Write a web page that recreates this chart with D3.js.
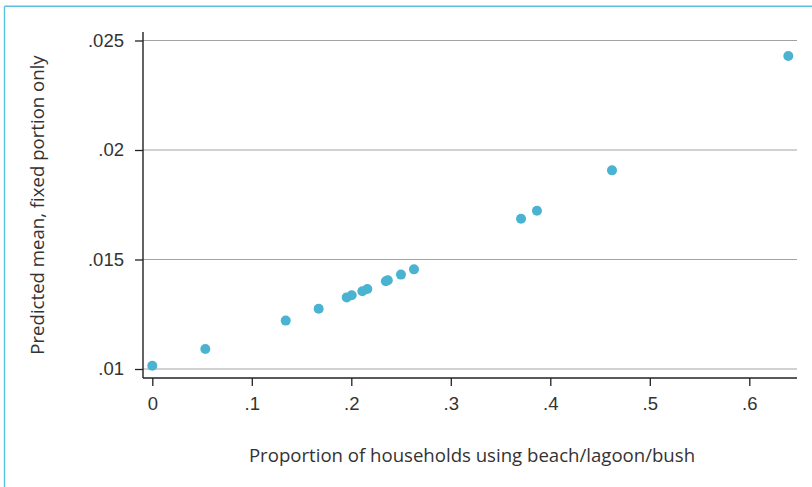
<!DOCTYPE html>
<html>
<head>
<meta charset="utf-8">
<script src="https://cdn.jsdelivr.net/npm/d3@7"></script>
<style>
  html, body { margin: 0; padding: 0; background: #fff; }
  svg { display: block; font-family: "Open Sans", "Noto Sans", sans-serif; }
</style>
</head>
<body>
<svg id="chart" width="812" height="487"></svg>
<script>
// Share of households using beach/lagoon/bush vs. predicted mean (fixed portion)
const proportion = [0, 0.0533, 0.1341, 0.1672, 0.1954, 0.2004, 0.2111, 0.2161, 0.2347, 0.2367, 0.2499, 0.2630, 0.3706, 0.3866, 0.4620, 0.6392];
const predictedMean = [0.01015, 0.01091, 0.01221, 0.01275, 0.01327, 0.01337, 0.01355, 0.01365, 0.01401, 0.01405, 0.01431, 0.01455, 0.01686, 0.01723, 0.01907, 0.02429];

const xTicks = [0, 0.1, 0.2, 0.3, 0.4, 0.5, 0.6];
const xTickLabels = ["0", ".1", ".2", ".3", ".4", ".5", ".6"];
const yTicks = [0.01, 0.015, 0.02, 0.025];
const yTickLabels = [".01", ".015", ".02", ".025"];

const xTitle = "Proportion of households using beach/lagoon/bush";
const yTitle = "Predicted mean, fixed portion only";

const svg = d3.select("#chart");
const textColor = "#333";
const dotColor = "#4bb3d2";

// Plot region
const plotLeft = 143, plotRight = 797, plotTop = 32, plotBottom = 378;

const x = d3.scaleLinear().domain([0, 0.6]).range([152.3, 749.3]);
const y = d3.scaleLinear().domain([0.01, 0.025]).range([369, 40.5]);

// Outer frame (top and left edges)
svg.append("line").attr("x1", 4.5).attr("x2", 812).attr("y1", 6.3).attr("y2", 6.3)
  .attr("stroke", "#5cbfdc").attr("stroke-width", 1.4);
svg.append("line").attr("x1", 4.5).attr("x2", 4.5).attr("y1", 6.3).attr("y2", 487)
  .attr("stroke", "#5cbfdc").attr("stroke-width", 1.4);

// Horizontal grid lines
svg.append("g").selectAll("line").data(yTicks).join("line")
  .attr("x1", plotLeft).attr("x2", plotRight)
  .attr("y1", d => y(d)).attr("y2", d => y(d))
  .attr("stroke", "#a3a3a3").attr("stroke-width", 1.2);

// Y axis
const yAxis = svg.append("g").attr("transform", `translate(${plotLeft},0)`)
  .call(d3.axisLeft(y).tickValues(yTicks).tickFormat((d, i) => yTickLabels[i]).tickSize(8).tickPadding(11).tickSizeOuter(0));
yAxis.select(".domain").remove();
yAxis.selectAll(".tick line").attr("stroke", "#222").attr("stroke-width", 1.3);
yAxis.selectAll(".tick text").attr("fill", textColor).attr("font-size", 18.5).attr("font-family", null);
yAxis.append("line").attr("x1", 0).attr("x2", 0).attr("y1", plotTop).attr("y2", plotBottom)
  .attr("stroke", "#222").attr("stroke-width", 1.4);

// X axis
const xAxis = svg.append("g").attr("transform", `translate(0,${plotBottom})`)
  .call(d3.axisBottom(x).tickValues(xTicks).tickFormat((d, i) => xTickLabels[i]).tickSize(8).tickPadding(11).tickSizeOuter(0));
xAxis.select(".domain").remove();
xAxis.selectAll(".tick line").attr("stroke", "#222").attr("stroke-width", 1.3);
xAxis.selectAll(".tick text").attr("fill", textColor).attr("font-size", 18.5).attr("font-family", null);
xAxis.append("line").attr("x1", plotLeft).attr("x2", plotRight).attr("y1", 0).attr("y2", 0)
  .attr("stroke", "#222").attr("stroke-width", 1.4);

// Points
svg.append("g").selectAll("circle").data(proportion).join("circle")
  .attr("cx", d => x(d))
  .attr("cy", (d, i) => y(predictedMean[i]))
  .attr("r", 5)
  .attr("fill", dotColor);

// Axis titles
svg.append("text").attr("x", 472).attr("y", 462).attr("text-anchor", "middle")
  .attr("fill", textColor).attr("font-size", 18.6).text(xTitle);
svg.append("text").attr("transform", "translate(44,205) rotate(-90)").attr("text-anchor", "middle")
  .attr("fill", textColor).attr("font-size", 18.6).text(yTitle);
</script>
</body>
</html>
